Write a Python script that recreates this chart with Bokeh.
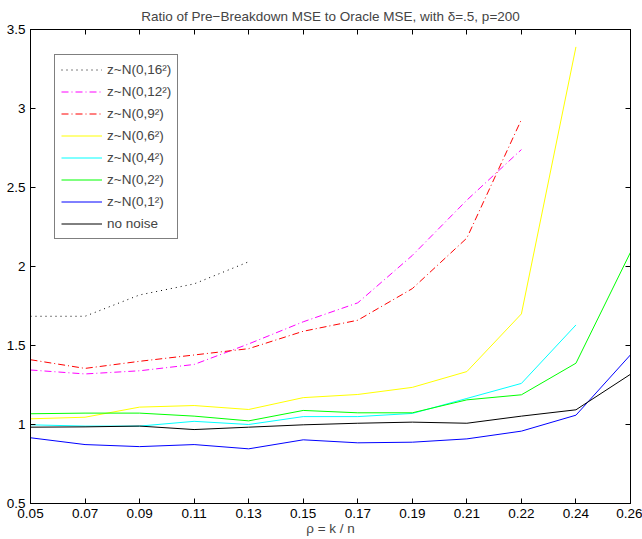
from bokeh.plotting import figure
from bokeh.models import Range1d, FixedTicker, LinearAxis, Legend, LegendItem, CustomJSTickFormatter
from bokeh.embed import file_html
from bokeh.resources import INLINE

# ---- data ----
x_labels = ["0.05", "0.07", "0.09", "0.11", "0.13", "0.15", "0.17", "0.19",
            "0.21", "0.22", "0.24", "0.26"]
noise16 = [1.685, 1.685, 1.82, 1.89, 2.03]
noise12 = [1.345, 1.32, 1.34, 1.38, 1.51, 1.65, 1.77, 2.07, 2.42, 2.74]
noise9 = [1.41, 1.355, 1.40, 1.44, 1.48, 1.59, 1.66, 1.86, 2.18, 2.93]
noise6 = [1.036, 1.046, 1.11, 1.12, 1.095, 1.17, 1.19, 1.235, 1.335, 1.70, 3.39]
noise4 = [0.998, 0.99, 0.99, 1.02, 1.0, 1.05, 1.05, 1.07, 1.165, 1.26, 1.63]
noise2 = [1.068, 1.072, 1.072, 1.053, 1.023, 1.089, 1.074, 1.074, 1.156, 1.188, 1.388, 2.09]
noise1 = [0.916, 0.873, 0.86, 0.873, 0.846, 0.903, 0.884, 0.888, 0.909, 0.958, 1.059, 1.441]
nonoise = [0.983, 0.985, 0.99, 0.968, 0.983, 0.998, 1.008, 1.015, 1.008, 1.053, 1.093, 1.318]
y_ticks = [0.5, 1, 1.5, 2, 2.5, 3, 3.5]
y_labels = ["0.5", "1", "1.5", "2", "2.5", "3", "3.5"]

FONT = "Liberation Sans"
FS = "13.5px"

p = figure(width=642, height=539, output_backend="svg", toolbar_location=None,
           x_range=Range1d(0, len(x_labels) - 1), y_range=Range1d(0.5, 3.5),
           min_border_left=30, min_border_right=12, min_border_top=29, min_border_bottom=36,
           title="Ratio of Pre\u2212Breakdown MSE to Oracle MSE, with \u03b4=.5, p=200")
p.title.text_font = FONT
p.title.text_font_size = FS
p.title.text_font_style = "normal"
p.title.align = "center"
p.title.vertical_align = "top"
p.title.standoff = 8
p.grid.visible = False
p.outline_line_color = "black"
p.outline_line_width = 1
p.background_fill_color = "white"
p.border_fill_color = "white"

p.xaxis.ticker = FixedTicker(ticks=list(range(len(x_labels))))
p.xaxis.major_label_overrides = {i: s for i, s in enumerate(x_labels)}
p.yaxis.ticker = FixedTicker(ticks=y_ticks)
p.yaxis.major_label_overrides = {t: s for t, s in zip(y_ticks, y_labels)}
p.xaxis.axis_label = "\u03c1 = k / n"

for ax in (p.xaxis[0], p.yaxis[0]):
    ax.major_tick_in = 5
    ax.major_tick_out = 0
    ax.minor_tick_line_color = None
    ax.axis_line_color = "black"
    ax.major_tick_line_color = "black"
    ax.major_label_text_font = FONT
    ax.major_label_text_font_size = FS
    ax.major_label_text_color = "black"
    ax.major_label_standoff = 5
    ax.axis_label_text_font = FONT
    ax.axis_label_text_font_size = FS
    ax.axis_label_text_font_style = "normal"
    ax.axis_label_standoff = 0

# box ticks on top and right (no labels)
top = LinearAxis(ticker=FixedTicker(ticks=list(range(len(x_labels)))),
                 formatter=CustomJSTickFormatter(code="return ''"))
right = LinearAxis(ticker=FixedTicker(ticks=y_ticks),
                   formatter=CustomJSTickFormatter(code="return ''"))
for ax in (top, right):
    ax.major_tick_in = 5
    ax.major_tick_out = 0
    ax.minor_tick_line_color = None
    ax.major_label_standoff = 0
    ax.axis_line_color = "black"
p.add_layout(top, "above")
p.add_layout(right, "right")

def xs(vals):
    return list(range(len(vals)))

series = [
    ("z~N(0,16\u00b2)", noise16, "black", "1 4"),
    ("z~N(0,12\u00b2)", noise12, "#ff00ff", "7 3 1 3"),
    ("z~N(0,9\u00b2)", noise9, "#ff0000", "7 3 1 3"),
    ("z~N(0,6\u00b2)", noise6, "#ffff00", "solid"),
    ("z~N(0,4\u00b2)", noise4, "#00ffff", "solid"),
    ("z~N(0,2\u00b2)", noise2, "#00ff00", "solid"),
    ("z~N(0,1\u00b2)", noise1, "#0000ff", "solid"),
    ("no noise", nonoise, "black", "solid"),
]
items = []
for label, vals, color, dash in series:
    r = p.line(xs(vals), vals, line_color=color, line_width=1, line_dash=dash)
    items.append(LegendItem(label=label, renderers=[r]))

legend = Legend(items=items, location=(24, 264))
legend.margin = 0
legend.padding = 6
legend.spacing = 5
legend.glyph_width = 41
legend.glyph_height = 17
legend.label_height = 17
legend.label_standoff = 5
legend.label_text_font = FONT
legend.label_text_font_size = FS
legend.border_line_color = "black"
legend.border_line_width = 1
legend.background_fill_color = "white"
legend.background_fill_alpha = 1
p.add_layout(legend, "center")

open("out.html", "w").write(file_html(p, INLINE))
